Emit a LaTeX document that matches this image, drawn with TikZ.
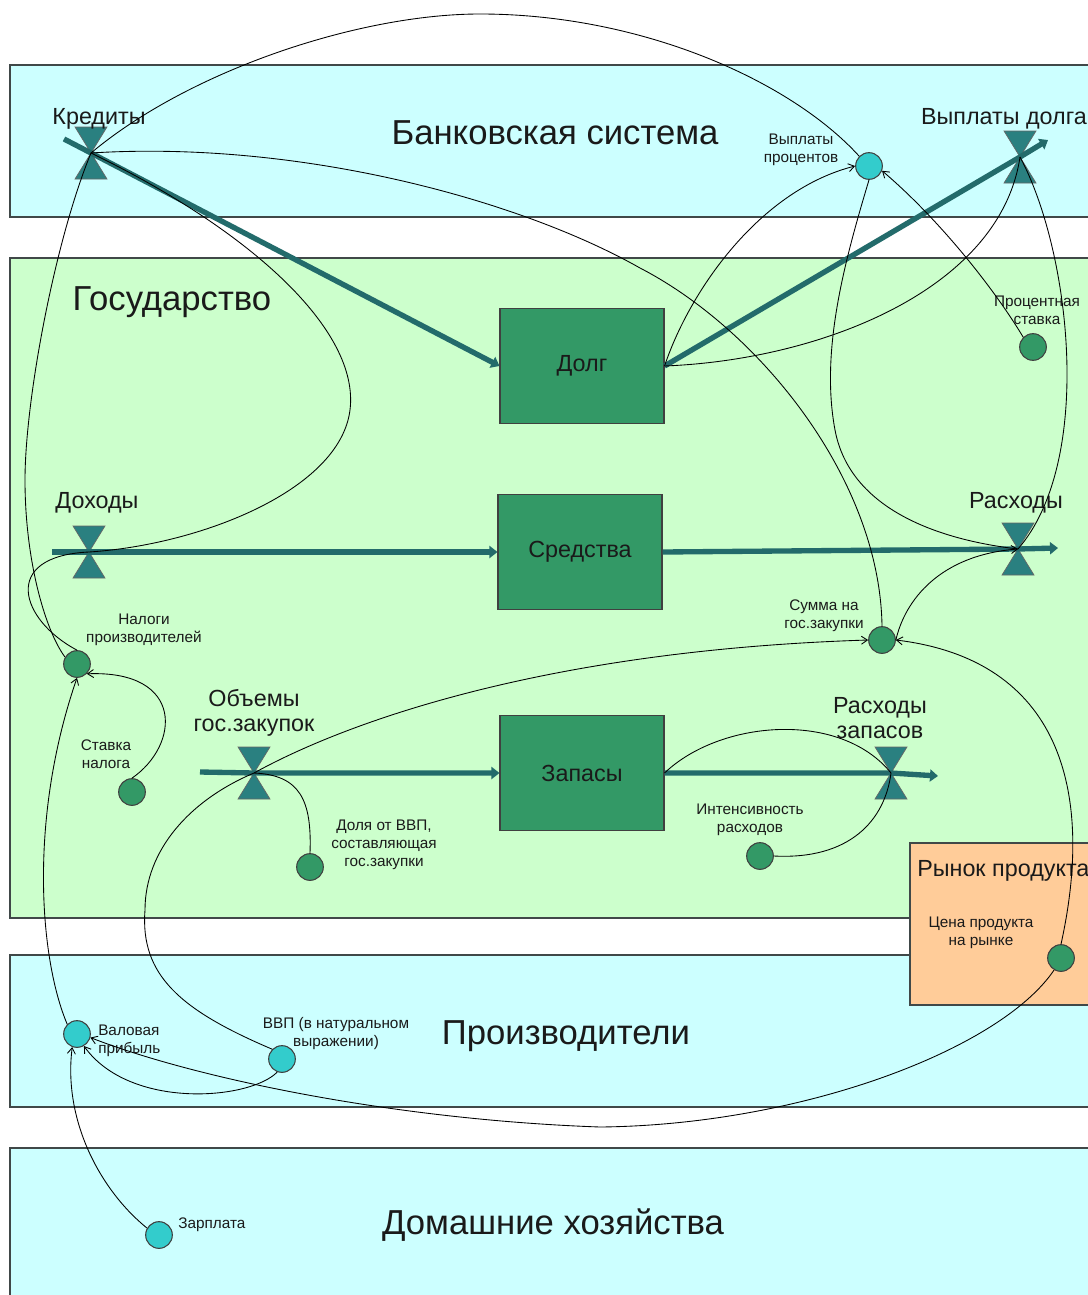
\documentclass[tikz,border=0pt]{standalone}
\usepackage{fontspec}
\setmainfont{Liberation Sans}
\usetikzlibrary{arrows.meta}
\definecolor{bankc}{HTML}{CCFFFF}
\definecolor{govc}{HTML}{CCFFCC}
\definecolor{mktc}{HTML}{FFCC99}
\definecolor{stockc}{HTML}{339966}
\definecolor{valvec}{HTML}{2A8080}
\definecolor{pipec}{HTML}{236B6B}
\definecolor{auxgc}{HTML}{339966}
\definecolor{auxcc}{HTML}{33CCCC}
\definecolor{edgec}{HTML}{404848}
\definecolor{txtc}{HTML}{1A1A1A}
\tikzset{
  region/.style={draw=edgec,line width=0.9pt},
  stockbox/.style={draw=black!75,line width=0.8pt,fill=stockc,minimum width=123pt,minimum height=86pt,
     font=\fontsize{17.5}{21}\selectfont,text=txtc},
  auxg/.style={circle,draw=black!75,line width=0.8pt,fill=auxgc,minimum size=20pt,inner sep=0pt},
  auxc/.style={circle,draw=black!75,line width=0.8pt,fill=auxcc,minimum size=20pt,inner sep=0pt},
  valveshape/.style={fill=valvec,draw=black!60,line width=0.5pt},
  pipe/.style={draw=pipec,line width=4pt,-{Triangle[length=6pt,width=9pt]}},
  link/.style={draw=black,line width=0.65pt},
  linka/.style={link,-{Straight Barb[length=4.5pt,width=6pt]}},
  titlelbl/.style={font=\fontsize{26}{31}\selectfont,text=txtc,inner sep=0pt,yshift=-1.5pt},
  midlbl/.style={font=\fontsize{17.5}{19}\selectfont,text=txtc,align=center,inner sep=0pt,yshift=-2.2pt},
  smalllbl/.style={font=\fontsize{11.5}{13.5}\selectfont,text=txtc,align=center,inner sep=0pt,yshift=-2.2pt}
}
\begin{document}
\begin{tikzpicture}[x=0.75pt,y=-0.75pt]
\useasboundingbox (0,0) rectangle (1088,1295);
\clip (0,0) rectangle (1088,1295);
\fill[white] (0,0) rectangle (1088,1295);
% regions
\path[region,fill=bankc] (10,65) rectangle (1100,217);
\path[region,fill=govc] (10,258) rectangle (1100,918);
\path[region,fill=bankc] (10,955) rectangle (1100,1107);
\path[region,fill=bankc] (10,1148) rectangle (1100,1312);
\path[region,fill=mktc] (910,843) rectangle (1100,1005);
% titles
\node[titlelbl] (tBank) at (555,131) {Банковская система};
\node[titlelbl] (tGov) at (172,300) {Государство};
\node[titlelbl] (tProd) at (566,1034) {Производители};
\node[titlelbl] (tHome) at (553,1223) {Домашние хозяйства};
\node[midlbl,anchor=west] (tMkt) at (917,868) {Рынок продукта};
% stocks
\node[stockbox] (dolg) at (582,366) {Долг};
\node[stockbox] (sred) at (580,552) {Средства};
\node[stockbox] (zap) at (582,773) {Запасы};
% valves
\coordinate (vK) at (91,153);
\coordinate (vVD) at (1020,157);
\coordinate (vD) at (89,552);
\coordinate (vR) at (1018,549);
\coordinate (vO) at (254,773);
\coordinate (vRZ) at (891,773);
\foreach \v in {vK,vVD,vD,vR,vO,vRZ}{
  \path[valveshape] (\v) -- +(-16,-26) -- +(16,-26) -- cycle;
  \path[valveshape] (\v) -- +(-16,26) -- +(16,26) -- cycle;
}
% pipe ends
\coordinate (k0) at (64,139);
\coordinate (vd1) at (1048,140);
\coordinate (d0) at (52,552);
\coordinate (r1) at (1058,548);
\coordinate (o0) at (200,772);
\coordinate (rz1) at (938,776);
% flows
\draw[pipe] (k0) -- (vK) -- (dolg.west);
\draw[pipe] (dolg.east) -- (vVD) -- (vd1);
\draw[pipe] (d0) -- (vD) -- (sred.west);
\draw[pipe] (sred.east) -- (vR) -- (r1);
\draw[pipe] (o0) -- (vO) -- (zap.west);
\draw[pipe] (zap.east) -- (vRZ) -- (rz1);
% valve labels
\node[midlbl] (lK) at (99,116) {Кредиты};
\node[midlbl,anchor=east] (lVD) at (1087,116) {Выплаты долга};
\node[midlbl] (lD) at (97,500) {Доходы};
\node[midlbl] (lR) at (1016,500) {Расходы};
\node[midlbl] (lO) at (254,710) {Объемы\\гос.закупок};
\node[midlbl] (lRZ) at (880,715) {Расходы\\запасов};
% auxiliaries
\node[auxc] (vp) at (869,166) {};
\node[auxg] (ps) at (1033,347) {};
\node[auxg] (np) at (77,664) {};
\node[auxg] (sn) at (132,792) {};
\node[auxg] (dv) at (310,867) {};
\node[auxg] (sz) at (882,640) {};
\node[auxg] (ir) at (760,856) {};
\node[auxg] (cp) at (1061,958) {};
\node[auxc] (vpr) at (77,1034) {};
\node[auxc] (gdp) at (282,1059) {};
\node[auxc] (zp) at (159,1235) {};
% aux labels
\node[smalllbl] (lvp) at (801,147) {Выплаты\\процентов};
\node[smalllbl] (lps) at (1037,307) {Процентная\\ставка};
\node[smalllbl] (lnp) at (144,627) {Налоги\\производителей};
\node[smalllbl] (lsn) at (106,751) {Ставка\\налога};
\node[smalllbl] (ldv) at (384,842) {Доля от ВВП,\\составляющая\\гос.закупки};
\node[smalllbl] (lsz) at (824,613) {Сумма на\\гос.закупки};
\node[smalllbl] (lir) at (750,817) {Интенсивность\\расходов};
\node[smalllbl] (lcp) at (981,930) {Цена продукта\\на рынке};
\node[smalllbl,align=left,anchor=west] (lvpr) at (98,1038) {Валовая\\прибыль};
\node[smalllbl] (lgdp) at (336,1031) {ВВП (в натуральном\\выражении)};
\node[smalllbl,anchor=west] (lzp) at (178,1222) {Зарплата};
% connectors
\draw[link] (vK) .. controls (190,70) and (360,14) .. (480,14) .. controls (640,14) and (790,80) .. (vp.north west);
\draw[link] (vK) .. controls (300,140) and (520,200) .. (640,268) .. controls (760,330) and (880,480) .. (sz.north);
\draw[link] (vK) .. controls (250,230) and (360,330) .. (350,410) .. controls (340,490) and (200,545) .. (vD);
\draw[link] (vK) .. controls (55,240) and (25,400) .. (25,480) .. controls (25,560) and (45,630) .. (np.150);
\draw[link] (np.north) .. controls (20,620) and (0,556) .. (vD);
\draw[linka] (sn.north) .. controls (180,745) and (185,670) .. (np.south east);
\draw[linka] (vpr.135) .. controls (40,960) and (28,820) .. (np.south);
\draw[linka] (zp.150) .. controls (100,1190) and (63,1120) .. (vpr.250);
\draw[linka] (gdp.250) .. controls (250,1100) and (130,1110) .. (vpr.-60);
\draw[linka] (cp.240) .. controls (1000,1050) and (800,1125) .. (600,1127) .. controls (400,1120) and (200,1080) .. (vpr.-15);
\draw[link] (gdp.135) .. controls (180,1010) and (140,975) .. (145,910) .. controls (145,850) and (190,800) .. (vO);
\draw[link] (dv.north) .. controls (312,800) and (300,775) .. (vO);
\draw[linka] (vO) .. controls (350,720) and (550,650) .. (sz.west);
\draw[linka] (sz.east) .. controls (905,600) and (940,555) .. (vR);
\draw[linka] (cp.north) .. controls (1095,790) and (1060,660) .. (sz.east);
\draw[link] (vp.south) .. controls (845,260) and (820,350) .. (835,430) .. controls (850,510) and (940,540) .. (vR);
\draw[link] (vVD) .. controls (1070,250) and (1095,460) .. (vR);
\draw[linka] (dolg.east) .. controls (690,290) and (760,190) .. (vp.west);
\draw[link] (dolg.east) .. controls (820,360) and (1000,290) .. (vVD);
\draw[linka] (ps.north west) .. controls (995,290) and (940,220) .. (vp.-20);
\draw[link] (zap.east) .. controls (720,720) and (840,710) .. (vRZ);
\draw[link] (ir.east) .. controls (850,860) and (885,820) .. (vRZ);
\end{tikzpicture}
\end{document}
